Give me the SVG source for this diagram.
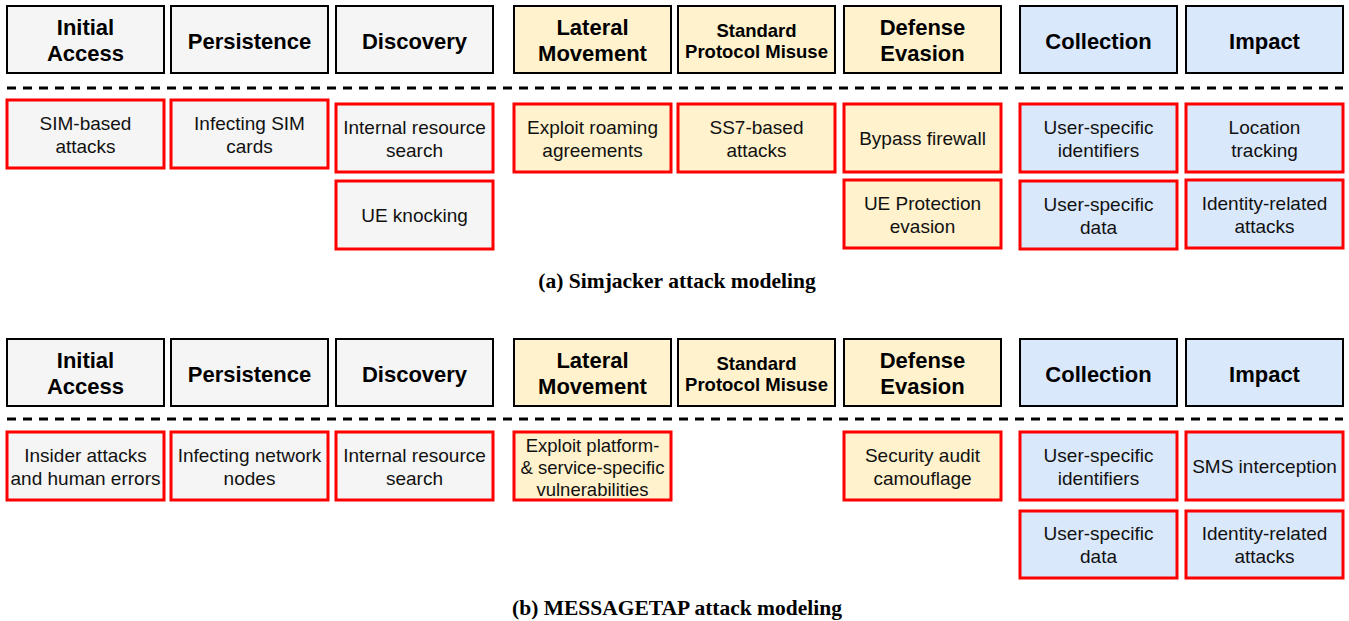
<svg xmlns="http://www.w3.org/2000/svg" width="1349" height="621" viewBox="0 0 1349 621">
<style>
.hd{stroke:#000;stroke-width:2}
.bx{stroke:#ff0000;stroke-width:3}
.g{fill:#f5f5f5}
.y{fill:#fff2cc}
.b{fill:#dae8fc}
.ht{font-family:"Liberation Sans",Arial,sans-serif;font-weight:bold;font-size:22px;text-anchor:middle;fill:#000}
.hs{font-size:18.5px}
.t{font-family:"Liberation Sans",Arial,sans-serif;font-size:19px;text-anchor:middle;fill:#111}
.t3{font-size:18.5px}
.cap{font-family:"Liberation Serif","Times New Roman",serif;font-weight:bold;font-size:21.5px;text-anchor:middle;fill:#000}
.dash{stroke:#000;stroke-width:3;stroke-dasharray:9 7;fill:none}
</style>
<rect width="1349" height="621" fill="#fff"/>

<!-- ===== (a) Simjacker ===== -->
<g id="a-headers">
<g id="a-h-initial"><rect class="hd g" x="7" y="6" width="157" height="67"/><text class="ht" x="85.5" y="35">Initial</text><text class="ht" x="85.5" y="61">Access</text></g>
<g id="a-h-persistence"><rect class="hd g" x="171" y="6" width="157" height="67"/><text class="ht" x="249.5" y="49">Persistence</text></g>
<g id="a-h-discovery"><rect class="hd g" x="336" y="6" width="157" height="67"/><text class="ht" x="414.5" y="49">Discovery</text></g>
<g id="a-h-lateral"><rect class="hd y" x="514" y="6" width="157" height="67"/><text class="ht" x="592.5" y="35">Lateral</text><text class="ht" x="592.5" y="61">Movement</text></g>
<g id="a-h-standard"><rect class="hd y" x="678" y="6" width="157" height="67"/><text class="ht hs" x="756.5" y="37">Standard</text><text class="ht hs" x="756.5" y="58">Protocol Misuse</text></g>
<g id="a-h-defense"><rect class="hd y" x="844" y="6" width="157" height="67"/><text class="ht" x="922.5" y="35">Defense</text><text class="ht" x="922.5" y="61">Evasion</text></g>
<g id="a-h-collection"><rect class="hd b" x="1020" y="6" width="157" height="67"/><text class="ht" x="1098.5" y="49">Collection</text></g>
<g id="a-h-impact"><rect class="hd b" x="1186" y="6" width="157" height="67"/><text class="ht" x="1264.5" y="49">Impact</text></g>
</g>
<g id="a-connectors"><line class="dash" x1="7" y1="88" x2="1343" y2="88"/></g>
<g id="a-techniques">
<g id="a-sim"><rect class="bx g" x="7" y="100" width="157" height="68"/><text class="t" x="85.5" y="130">SIM-based</text><text class="t" x="85.5" y="153">attacks</text></g>
<g id="a-infect"><rect class="bx g" x="171" y="100" width="157" height="68"/><text class="t" x="249.5" y="130">Infecting SIM</text><text class="t" x="249.5" y="153">cards</text></g>
<g id="a-internal"><rect class="bx g" x="336" y="104" width="157" height="68"/><text class="t" x="414.5" y="134">Internal resource</text><text class="t" x="414.5" y="157">search</text></g>
<g id="a-ueknock"><rect class="bx g" x="336" y="181" width="157" height="68"/><text class="t" x="414.5" y="222">UE knocking</text></g>
<g id="a-roaming"><rect class="bx y" x="514" y="104" width="157" height="68"/><text class="t" x="592.5" y="134">Exploit roaming</text><text class="t" x="592.5" y="157">agreements</text></g>
<g id="a-ss7"><rect class="bx y" x="678" y="104" width="157" height="68"/><text class="t" x="756.5" y="134">SS7-based</text><text class="t" x="756.5" y="157">attacks</text></g>
<g id="a-firewall"><rect class="bx y" x="844" y="104" width="157" height="68"/><text class="t" x="922.5" y="145">Bypass firewall</text></g>
<g id="a-ueprot"><rect class="bx y" x="844" y="180" width="157" height="68"/><text class="t" x="922.5" y="210">UE Protection</text><text class="t" x="922.5" y="233">evasion</text></g>
<g id="a-ids"><rect class="bx b" x="1020" y="104" width="157" height="68"/><text class="t" x="1098.5" y="134">User-specific</text><text class="t" x="1098.5" y="157">identifiers</text></g>
<g id="a-data"><rect class="bx b" x="1020" y="181" width="157" height="68"/><text class="t" x="1098.5" y="211">User-specific</text><text class="t" x="1098.5" y="234">data</text></g>
<g id="a-loc"><rect class="bx b" x="1186" y="104" width="157" height="68"/><text class="t" x="1264.5" y="134">Location</text><text class="t" x="1264.5" y="157">tracking</text></g>
<g id="a-identity"><rect class="bx b" x="1186" y="180" width="157" height="68"/><text class="t" x="1264.5" y="210">Identity-related</text><text class="t" x="1264.5" y="233">attacks</text></g>
</g>
<text class="cap" x="677" y="288">(a) Simjacker attack modeling</text>

<!-- ===== (b) MESSAGETAP ===== -->
<g id="b-headers">
<g id="b-h-initial"><rect class="hd g" x="7" y="339" width="157" height="67"/><text class="ht" x="85.5" y="368">Initial</text><text class="ht" x="85.5" y="394">Access</text></g>
<g id="b-h-persistence"><rect class="hd g" x="171" y="339" width="157" height="67"/><text class="ht" x="249.5" y="382">Persistence</text></g>
<g id="b-h-discovery"><rect class="hd g" x="336" y="339" width="157" height="67"/><text class="ht" x="414.5" y="382">Discovery</text></g>
<g id="b-h-lateral"><rect class="hd y" x="514" y="339" width="157" height="67"/><text class="ht" x="592.5" y="368">Lateral</text><text class="ht" x="592.5" y="394">Movement</text></g>
<g id="b-h-standard"><rect class="hd y" x="678" y="339" width="157" height="67"/><text class="ht hs" x="756.5" y="370">Standard</text><text class="ht hs" x="756.5" y="391">Protocol Misuse</text></g>
<g id="b-h-defense"><rect class="hd y" x="844" y="339" width="157" height="67"/><text class="ht" x="922.5" y="368">Defense</text><text class="ht" x="922.5" y="394">Evasion</text></g>
<g id="b-h-collection"><rect class="hd b" x="1020" y="339" width="157" height="67"/><text class="ht" x="1098.5" y="382">Collection</text></g>
<g id="b-h-impact"><rect class="hd b" x="1186" y="339" width="157" height="67"/><text class="ht" x="1264.5" y="382">Impact</text></g>
</g>
<g id="b-connectors"><line class="dash" x1="7" y1="419" x2="1343" y2="419"/></g>
<g id="b-techniques">
<g id="b-insider"><rect class="bx g" x="7" y="432" width="157" height="68"/><text class="t" x="85.5" y="462">Insider attacks</text><text class="t" x="85.5" y="485">and human errors</text></g>
<g id="b-infect"><rect class="bx g" x="171" y="432" width="157" height="68"/><text class="t" x="249.5" y="462">Infecting network</text><text class="t" x="249.5" y="485">nodes</text></g>
<g id="b-internal"><rect class="bx g" x="336" y="432" width="157" height="68"/><text class="t" x="414.5" y="462">Internal resource</text><text class="t" x="414.5" y="485">search</text></g>
<g id="b-platform"><rect class="bx y" x="514" y="432" width="157" height="68"/><text class="t t3" x="592.5" y="452">Exploit platform-</text><text class="t t3" x="592.5" y="474">&amp; service-specific</text><text class="t t3" x="592.5" y="496">vulnerabilities</text></g>
<g id="b-audit"><rect class="bx y" x="844" y="432" width="157" height="68"/><text class="t" x="922.5" y="462">Security audit</text><text class="t" x="922.5" y="485">camouflage</text></g>
<g id="b-ids"><rect class="bx b" x="1020" y="432" width="157" height="68"/><text class="t" x="1098.5" y="462">User-specific</text><text class="t" x="1098.5" y="485">identifiers</text></g>
<g id="b-data"><rect class="bx b" x="1020" y="511" width="157" height="67"/><text class="t" x="1098.5" y="540">User-specific</text><text class="t" x="1098.5" y="563">data</text></g>
<g id="b-sms"><rect class="bx b" x="1186" y="432" width="157" height="68"/><text class="t" x="1264.5" y="473">SMS interception</text></g>
<g id="b-identity"><rect class="bx b" x="1186" y="511" width="157" height="67"/><text class="t" x="1264.5" y="540">Identity-related</text><text class="t" x="1264.5" y="563">attacks</text></g>
</g>
<text class="cap" x="677" y="615">(b) MESSAGETAP attack modeling</text>
</svg>
